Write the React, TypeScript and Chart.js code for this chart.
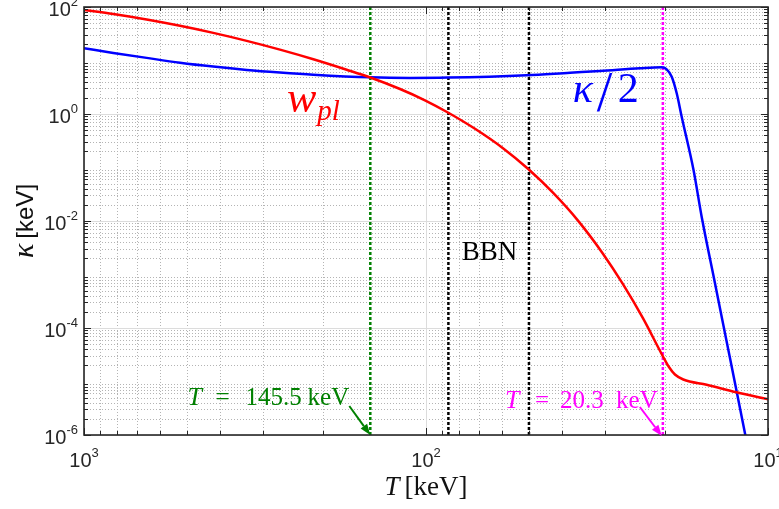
import React, { useEffect, useRef } from 'react';
import { Chart, registerables } from 'chart.js';

Chart.register(...registerables);

// ---------------- data ----------------
const wplTemperatures = [1000, 821, 655.8, 524, 418.8, 334.4, 267.3, 213.5, 170.6, 145.5, 119.1, 100.7, 86.3, 71.9, 59.55, 50.33, 42.54, 35.94, 30.38, 26.55, 23.21, 20.28, 19.48, 18.71, 17.69, 15.11, 12.35, 10];
const wplValues = [87.9, 73.7, 58.3, 44.5, 32.8, 23.28, 15.97, 10.56, 6.73, 4.81, 2.933, 1.804, 1.067, 0.529, 0.2294, 0.0946, 0.0338, 0.01017, 2.447e-3, 6.59e-4, 1.525e-4, 2.934e-5, 1.866e-5, 1.351e-5, 1.09e-5, 8.68e-6, 6.28e-6, 4.65e-6];

const kappaTemperatures = [1000, 821, 655.8, 524, 418.8, 334.4, 267.3, 213.5, 145.5, 111.4, 86.4, 50.8, 37.9, 31.0, 23.7, 20.46, 19.78, 19.12, 18.49, 17.88, 16.51, 15.63, 14.29, 13.06, 12.32, 11.65, 11.44];
const kappaHalfValues = [16.9, 13.87, 11.19, 9.1, 7.69, 6.67, 5.97, 5.43, 4.85, 4.73, 4.79, 5.31, 5.92, 6.36, 7.15, 7.46, 6.85, 4.98, 2.44, 0.89, 0.0898, 0.01203, 6.85e-4, 3.88e-5, 6.02e-6, 1.0e-6, 5.7e-7];

// vertical markers: T = 145.5 keV, BBN window (86 keV .. 50 keV), T = 20.3 keV
const markerTemperatures = [145.5, 86, 50, 20.3];
const calloutNumbers = ['145.5', '20.3'];

const xLimits = [10, 1000];
const yLimits = [1e-6, 100];
const xTickValues = [1000, 100, 10];
const xTickExponents = ['3', '2', '1'];
const yTickValues = [1e-6, 1e-4, 1e-2, 1, 100];
const yTickExponents = ['-6', '-4', '-2', '0', '2'];

// label anchors in data coordinates [T, value]
const wplLabelAt = [255, 1.09];
const kappaLabelAt = [37.2, 1.68];
const bbnLabelAt = [65.2, 1.87e-3];

// ---------------- styles ----------------
const SANS = '"Liberation Sans", Arial, Helvetica, sans-serif';
const SERIF = '"Liberation Serif", "Times New Roman", serif';
const AXIS_COLOR = '#262626';
const RED = '#ff0000';
const BLUE = '#0000ff';
const GREEN = '#008000';
const MAGENTA = '#ff00ff';
const markerColors = [GREEN, '#000000', '#000000', MAGENTA];
const markerWidths = [2.5, 2.5, 2.5, 2.5];

function minorValues(lo: number, hi: number): number[] {
  const out: number[] = [];
  for (let e = lo; e < hi; e++) for (let m = 2; m <= 9; m++) out.push(m * Math.pow(10, e));
  return out;
}
function decadeExp(v: number) {
  return Math.round(Math.log10(v));
}

function drawArrow(ctx: CanvasRenderingContext2D, x0: number, y0: number, x1: number, y1: number, color: string) {
  const ang = Math.atan2(y1 - y0, x1 - x0);
  const hl = 11, hw = 4;
  const bx = x1 - hl * Math.cos(ang), by = y1 - hl * Math.sin(ang);
  ctx.save();
  ctx.strokeStyle = color;
  ctx.fillStyle = color;
  ctx.lineWidth = 2;
  ctx.beginPath();
  ctx.moveTo(x0, y0);
  ctx.lineTo(bx, by);
  ctx.stroke();
  ctx.beginPath();
  ctx.moveTo(x1, y1);
  ctx.lineTo(bx + hw * Math.sin(ang), by - hw * Math.cos(ang));
  ctx.lineTo(bx - hw * Math.sin(ang), by + hw * Math.cos(ang));
  ctx.closePath();
  ctx.fill();
  ctx.restore();
}

const decorations = {
  id: 'decorations',
  beforeDatasetsDraw(chart: any) {
    const { ctx, chartArea: a } = chart;
    const xs = chart.scales.x, ys = chart.scales.y;
    const xe0 = decadeExp(xLimits[0]), xe1 = decadeExp(xLimits[1]);
    const ye0 = decadeExp(yLimits[0]), ye1 = decadeExp(yLimits[1]);
    ctx.save();
    ctx.fillStyle = '#ffffff';
    ctx.fillRect(a.left, a.top, a.right - a.left, a.bottom - a.top);
    ctx.lineWidth = 1;
    ctx.strokeStyle = '#b4b4b4';
    ctx.setLineDash([1, 2]);
    ctx.beginPath();
    for (const v of minorValues(xe0, xe1)) {
      const p = Math.round(xs.getPixelForValue(v)) + 0.5;
      ctx.moveTo(p, a.top); ctx.lineTo(p, a.bottom);
    }
    for (const v of minorValues(ye0, ye1)) {
      const p = Math.round(ys.getPixelForValue(v)) + 0.5;
      ctx.moveTo(a.left, p); ctx.lineTo(a.right, p);
    }
    ctx.stroke();
    ctx.setLineDash([]);
    ctx.strokeStyle = '#dcdcdc';
    ctx.beginPath();
    for (const v of xTickValues) {
      const p = Math.round(xs.getPixelForValue(v)) + 0.5;
      ctx.moveTo(p, a.top); ctx.lineTo(p, a.bottom);
    }
    for (const v of yTickValues) {
      const p = Math.round(ys.getPixelForValue(v)) + 0.5;
      ctx.moveTo(a.left, p); ctx.lineTo(a.right, p);
    }
    ctx.stroke();
    ctx.restore();
  },
  afterDatasetsDraw(chart: any) {
    const { ctx, chartArea: a } = chart;
    const xs = chart.scales.x, ys = chart.scales.y;
    const xe0 = decadeExp(xLimits[0]), xe1 = decadeExp(xLimits[1]);
    const ye0 = decadeExp(yLimits[0]), ye1 = decadeExp(yLimits[1]);
    ctx.save();
    ctx.strokeStyle = AXIS_COLOR;
    ctx.lineWidth = 1;
    ctx.beginPath();
    const tickX = (v: number, len: number) => {
      const p = Math.round(xs.getPixelForValue(v)) + 0.5;
      ctx.moveTo(p, a.bottom); ctx.lineTo(p, a.bottom - len);
      ctx.moveTo(p, a.top); ctx.lineTo(p, a.top + len);
    };
    const tickY = (v: number, len: number) => {
      const p = Math.round(ys.getPixelForValue(v)) + 0.5;
      ctx.moveTo(a.left, p); ctx.lineTo(a.left + len, p);
      ctx.moveTo(a.right, p); ctx.lineTo(a.right - len, p);
    };
    minorValues(xe0, xe1).forEach((v) => tickX(v, 4));
    xTickValues.forEach((v) => tickX(v, 7));
    minorValues(ye0, ye1).forEach((v) => tickY(v, 4));
    yTickValues.forEach((v) => tickY(v, 7));
    ctx.stroke();
    ctx.lineWidth = 1.6;
    ctx.strokeRect(a.left, a.top, a.right - a.left, a.bottom - a.top);
    ctx.restore();
  },
  afterDraw(chart: any) {
    const { ctx, chartArea: a } = chart;
    const xs = chart.scales.x, ys = chart.scales.y;
    ctx.save();
    ctx.fillStyle = AXIS_COLOR;
    ctx.textBaseline = 'alphabetic';
    ctx.textAlign = 'left';
    const baseFont = `20px ${SANS}`;
    const expFont = `13px ${SANS}`;
    // x tick labels
    xTickValues.forEach((v, i) => {
      const px = xs.getPixelForValue(v);
      ctx.font = baseFont;
      const wb = ctx.measureText('10').width;
      ctx.font = expFont;
      const we = ctx.measureText(xTickExponents[i]).width;
      const left = px - (wb + we) / 2;
      ctx.font = baseFont;
      ctx.fillText('10', left, a.bottom + 32);
      ctx.font = expFont;
      ctx.fillText(xTickExponents[i], left + wb, a.bottom + 22);
    });
    // y tick labels
    yTickValues.forEach((v, i) => {
      const py = ys.getPixelForValue(v);
      ctx.font = expFont;
      const we = ctx.measureText(yTickExponents[i]).width;
      ctx.font = baseFont;
      const wb = ctx.measureText('10').width;
      const right = a.left - 6;
      ctx.fillText('10', right - we - wb, py + 9);
      ctx.font = expFont;
      ctx.fillText(yTickExponents[i], right - we, py - 1);
    });

    // x axis title: T [keV]
    ctx.fillStyle = '#111111';
    const cx = (a.left + a.right) / 2;
    ctx.font = `italic 27px ${SERIF}`;
    const wT = ctx.measureText('T').width;
    ctx.font = `27px ${SERIF}`;
    const wK = ctx.measureText('[keV]').width;
    const gap = 5;
    const tl = cx - (wT + gap + wK) / 2;
    ctx.font = `italic 27px ${SERIF}`;
    ctx.fillText('T', tl, a.bottom + 60);
    ctx.font = `27px ${SERIF}`;
    ctx.fillText('[keV]', tl + wT + gap, a.bottom + 60);

    // y axis title: κ [keV]
    ctx.save();
    const cy = (a.top + a.bottom) / 2;
    ctx.translate(33, cy);
    ctx.rotate(-Math.PI / 2);
    ctx.font = `italic 30px ${SERIF}`;
    const wk = ctx.measureText('κ').width;
    ctx.font = `24px ${SANS}`;
    const wu = ctx.measureText('[keV]').width;
    const start = -(wk + 5 + wu) / 2;
    ctx.font = `italic 30px ${SERIF}`;
    ctx.fillText('κ', start, 0);
    ctx.font = `24px ${SANS}`;
    ctx.fillText('[keV]', start + wk + 5, 0);
    ctx.restore();

    // w_pl label
    {
      const x = xs.getPixelForValue(wplLabelAt[0]);
      const y = ys.getPixelForValue(wplLabelAt[1]);
      ctx.fillStyle = RED;
      ctx.font = `italic 44px ${SERIF}`;
      const ww = ctx.measureText('w').width;
      ctx.fillText('w', x, y);
      ctx.font = `italic 29px ${SERIF}`;
      ctx.fillText('pl', x + ww + 1, y + 8);
    }
    // κ/2 label
    {
      const x = xs.getPixelForValue(kappaLabelAt[0]);
      const y = ys.getPixelForValue(kappaLabelAt[1]);
      ctx.fillStyle = BLUE;
      ctx.font = `italic 42px ${SERIF}`;
      ctx.fillText('κ', x, y);
      ctx.font = `56px ${SERIF}`;
      ctx.fillText('/', x + 24, y + 9);
      ctx.font = `42px ${SERIF}`;
      ctx.fillText('2', x + 45, y);
    }
    // BBN
    {
      const x = xs.getPixelForValue(bbnLabelAt[0]);
      const y = ys.getPixelForValue(bbnLabelAt[1]);
      ctx.fillStyle = '#000000';
      ctx.font = `27px ${SERIF}`;
      ctx.textAlign = 'center';
      ctx.fillText('BBN', x, y);
      ctx.textAlign = 'left';
    }
    // callouts
    const callout = (tempIdx: number, numIdx: number, color: string, o: any) => {
      const tipX = xs.getPixelForValue(markerTemperatures[tempIdx]);
      const tipY = ys.getPixelForValue(yLimits[0]);
      ctx.fillStyle = color;
      const by = tipY + o.dy;
      ctx.font = `italic 26px ${SERIF}`;
      ctx.fillText('T', tipX + o.t, by);
      ctx.font = `25px ${SERIF}`;
      ctx.textAlign = 'center';
      ctx.fillText('=', tipX + o.eq, by);
      ctx.textAlign = 'left';
      ctx.fillText(calloutNumbers[numIdx], tipX + o.num, by);
      ctx.fillText('keV', tipX + o.kev, by);
      drawArrow(ctx, tipX + o.ax, tipY + o.ay, tipX + o.tx, tipY + o.ty, color);
    };
    callout(0, 0, GREEN, { t: -182.7, eq: -147.7, num: -124.7, kev: -62.7, dy: -30, ax: -21, ay: -29, tx: 0, ty: 0 });
    callout(3, 1, MAGENTA, { t: -157.8, eq: -120.8, num: -102.8, kev: -46.8, dy: -27, ax: -23, ay: -28, tx: -1, ty: 1 });
    ctx.restore();
  },
};

export default function App() {
  const ref = useRef<HTMLCanvasElement>(null);
  useEffect(() => {
    if (!ref.current) return;
    const toPoints = (xsArr: number[], ysArr: number[]) => xsArr.map((x, i) => ({ x, y: ysArr[i] }));
    const markerSets = markerTemperatures.map((t, i) => ({
      label: 'marker' + i,
      data: [{ x: t, y: yLimits[0] }, { x: t, y: yLimits[1] }],
      borderColor: markerColors[i],
      borderWidth: markerWidths[i],
      borderDash: [3, 2],
      tension: 0,
      pointRadius: 0,
      clip: 0,
    }));
    const chart = new Chart(ref.current, {
      type: 'line',
      data: {
        datasets: [
          {
            label: 'w_pl',
            data: toPoints(wplTemperatures, wplValues),
            borderColor: RED,
            borderWidth: 2.5,
            pointRadius: 0,
            cubicInterpolationMode: 'monotone',
            clip: 0,
          },
          {
            label: 'kappa/2',
            data: toPoints(kappaTemperatures, kappaHalfValues),
            borderColor: BLUE,
            borderWidth: 2.5,
            pointRadius: 0,
            cubicInterpolationMode: 'monotone',
            clip: 0,
          },
          ...markerSets,
        ] as any,
      },
      options: {
        responsive: false,
        animation: false,
        events: [],
        layout: { padding: { left: 84, right: 11, top: 7, bottom: 74 } },
        plugins: {
          legend: { display: false },
          tooltip: { enabled: false },
          title: { display: false },
        },
        scales: {
          x: { type: 'logarithmic', reverse: true, min: xLimits[0], max: xLimits[1], display: false },
          y: { type: 'logarithmic', min: yLimits[0], max: yLimits[1], display: false },
        },
      } as any,
      plugins: [decorations as any],
    });
    return () => chart.destroy();
  }, []);
  return (
    <div style={{ position: 'absolute', left: 0, top: 0, width: 779, height: 509, background: '#ffffff' }}>
      <canvas ref={ref} width={779} height={509} style={{ display: 'block' }} />
    </div>
  );
}
